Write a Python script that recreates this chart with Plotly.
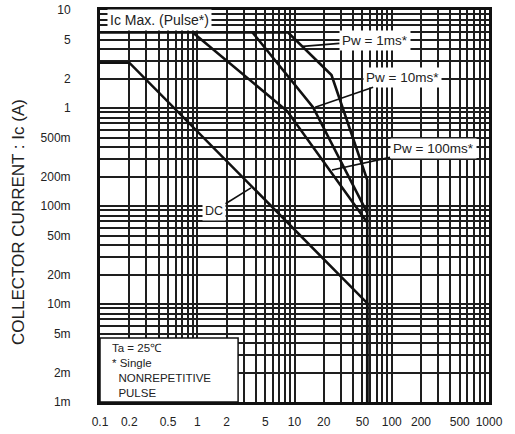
import math
import plotly.graph_objects as go

# Safe operating area: collector-emitter voltage (V) vs collector current (A)
dc_v = [0.1, 0.2, 56, 56]
dc_i = [2.9, 2.9, 0.0102, 0.001]

pw1_v = [0.1, 8.6, 24, 56, 56]
pw1_i = [5.9, 5.9, 2.17, 0.184, 0.001]

pw10_v = [3.7, 15.5, 56]
pw10_i = [5.9, 1.02, 0.085]

pw100_v = [0.9, 8.4, 56]
pw100_i = [5.9, 0.93, 0.068]

x_ticks = [0.1, 0.2, 0.5, 1, 2, 5, 10, 20, 50, 100, 200, 500, 1000]
x_labels = ["0.1", "0.2", "0.5", "1", "2", "5", "10", "20", "50", "100", "200", "500", "1000"]
y_ticks = [0.001, 0.002, 0.005, 0.01, 0.02, 0.05, 0.1, 0.2, 0.5, 1, 2, 5, 10]
y_labels = ["1m", "2m", "5m", "10m", "20m", "50m", "100m", "200m", "500m", "1", "2", "5", "10"]

FONT = "Arial, Liberation Sans, sans-serif"
GRID = "#1e1e1e"


def decade_grid(lo, hi):
    vals = []
    for e in range(lo, hi):
        for k in range(1, 10):
            vals.append(k * 10 ** e)
    vals.append(10 ** hi)
    return vals


fig = go.Figure()
for v, i in [(dc_v, dc_i), (pw100_v, pw100_i), (pw10_v, pw10_i), (pw1_v, pw1_i)]:
    fig.add_trace(go.Scatter(x=v, y=i, mode="lines",
                             line=dict(color="#111111", width=2.6),
                             showlegend=False, hoverinfo="skip"))

axis_common = dict(
    type="log", automargin=False,
    showgrid=True, gridcolor=GRID, gridwidth=2,
    showline=True, linecolor="#111111", linewidth=3, mirror=True,
    ticks="", zeroline=False,
    tickfont=dict(family=FONT, size=12, color="#222222"),
)

fig.update_xaxes(
    **axis_common,
    range=[-1, 3],
    tickmode="array", tickvals=x_ticks, ticktext=x_labels,
    ticklabelstandoff=7,
    minor=dict(tickvals=decade_grid(-1, 3), showgrid=True,
               gridcolor=GRID, gridwidth=2, ticks=""),
)
fig.update_yaxes(
    **axis_common,
    range=[-3, 1],
    tickmode="array", tickvals=y_ticks, ticktext=y_labels,
    ticklabelstandoff=24,
    minor=dict(tickvals=decade_grid(-3, 1), showgrid=True,
               gridcolor=GRID, gridwidth=2, ticks=""),
)


def lg(val):
    return math.log10(val)


# Vertical axis title
fig.add_annotation(xref="paper", yref="paper", x=-0.211, y=0.459,
                   xanchor="center", yanchor="middle",
                   text="COLLECTOR CURRENT : Ic (A)", textangle=-90,
                   showarrow=False,
                   font=dict(family=FONT, size=17, color="#222222"))

label_font = dict(family=FONT, size=13.5, color="#222222")

# Curve labels with leader lines
callouts = [
    ("Pw = 1ms*", 12.2, 4.25, 72, -6),
    ("Pw = 10ms*", 16.3, 1.02, 87, -30),
    ("Pw = 100ms*", 24.3, 0.233, 101, -22),
    ("DC", 3.57, 0.153, -37, 23),
]
for text, xv, yv, ax, ay in callouts:
    fig.add_annotation(x=lg(xv), y=lg(yv), text=text, showarrow=True,
                       arrowhead=0, arrowwidth=1.6, arrowcolor="#111111",
                       ax=ax, ay=ay, bgcolor="white", borderpad=2,
                       font=label_font if text != "DC" else dict(label_font, size=12.5))

fig.add_annotation(x=lg(0.41), y=lg(7.9), text="Ic Max. (Pulse*)",
                   showarrow=False, bgcolor="white", borderpad=2,
                   font=dict(label_font, size=14))

# Conditions box in the lower-left corner
fig.add_shape(type="rect", xref="paper", yref="paper",
              x0=0, x1=0.355, y0=0, y1=0.163,
              fillcolor="white", line=dict(color="#111111", width=1.5),
              layer="above")
fig.add_annotation(xref="paper", yref="paper", x=0.026, y=0.157,
                   xanchor="left", yanchor="top", align="left",
                   showarrow=False,
                   font=dict(family=FONT, size=11.5, color="#222222"),
                   text="Ta = 25\u2103<br>* Single<br>\u00a0\u00a0NONREPETITIVE<br>\u00a0\u00a0PULSE")

fig.update_layout(
    width=515, height=434,
    margin=dict(l=100, r=26, t=10, b=32),
    paper_bgcolor="white", plot_bgcolor="white",
    showlegend=False,
)

fig.write_html("out.html")
